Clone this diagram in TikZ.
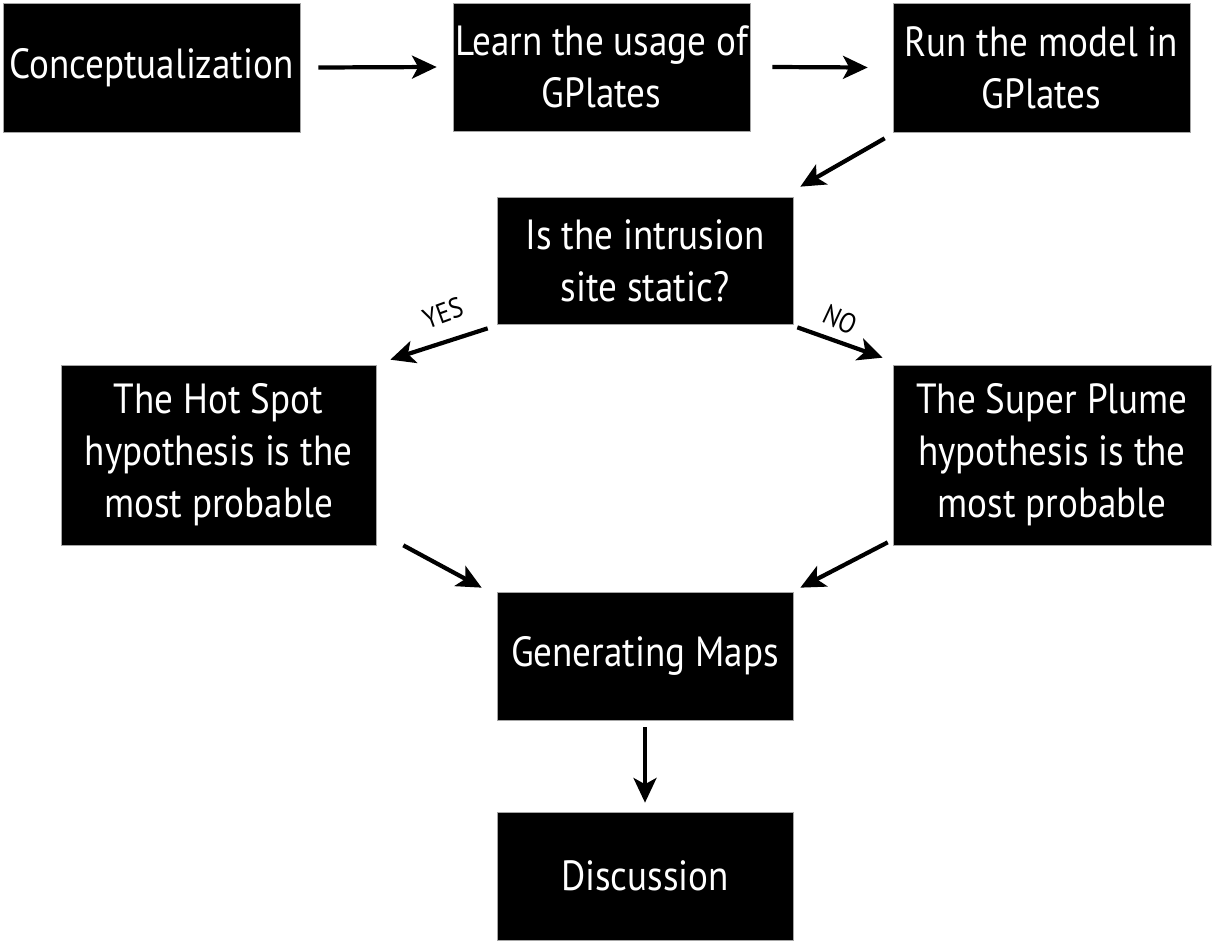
\documentclass[tikz,border=0pt]{standalone}
\usepackage{fontspec}
\setmainfont{PT Sans}[FakeStretch=0.88]
\usetikzlibrary{arrows.meta}
\begin{document}
\begin{tikzpicture}[x=0.02cm,y=-0.02cm,
  box/.style={fill=black, draw=black!35, line width=0.4pt, text=white, align=center,
    font=\fontsize{24}{29.5}\selectfont, inner sep=0pt},
  arr/.style={line width=2.4pt, -{Stealth[length=14pt,width=13pt,inset=3.5pt]}},
  lbl/.style={font=\fontsize{16}{18}\selectfont, inner sep=0pt}]
\useasboundingbox (0,0) rectangle (1212,940);
\node[box, minimum width=5.94cm, minimum height=2.58cm] (C) at (151.5,67.5) {Conceptualization};
\node[box, minimum width=5.94cm, minimum height=2.56cm] (L) at (601.5,67) {Learn the usage of\\GPlates};
\node[box, minimum width=5.94cm, minimum height=2.58cm] (R) at (1041.5,67.5) {Run the model in\\GPlates};
\node[box, minimum width=5.92cm, minimum height=2.54cm] (I) at (645,260.5) {Is the intrusion\\site static?};
\node[box, minimum width=6.30cm, minimum height=3.60cm] (H) at (218.5,455) {The Hot Spot\\hypothesis is the\\most probable};
\node[box, minimum width=6.36cm, minimum height=3.60cm] (S) at (1052,455) {The Super Plume\\hypothesis is the\\most probable};
\node[box, minimum width=5.92cm, minimum height=2.56cm] (G) at (645,656) {Generating Maps};
\node[box, minimum width=5.92cm, minimum height=2.56cm] (D) at (645,876) {Discussion};
\draw[arr] ([shift={(18,0)}]C.east) -- ([shift={(-16,0)}]L.west);
\draw[arr] ([shift={(22,0)}]L.east) -- ([shift={(-25,0)}]R.west);
\draw[arr] ([shift={(-8,6)}]R.south west) -- ([shift={(7,-10)}]I.north east);
\draw[arr] ([shift={(-9,4)}]I.south west) -- ([shift={(14,-5)}]H.north east);
\draw[arr] ([shift={(4,3)}]I.south east) -- ([shift={(-10,-7)}]S.north west);
\draw[arr] ([shift={(27,0)}]H.south east) -- ([shift={(-15,-4)}]G.north west);
\draw[arr] ([shift={(-5,-3)}]S.south west) -- ([shift={(7,-4)}]G.north east);
\draw[arr] ([shift={(0,7)}]G.south) -- ([shift={(0,-9)}]D.north);
\node[lbl, rotate=20] (yes) at (443,313) {YES};
\node[lbl, rotate=-25] (no) at (840,320) {NO};
\end{tikzpicture}
\end{document}
